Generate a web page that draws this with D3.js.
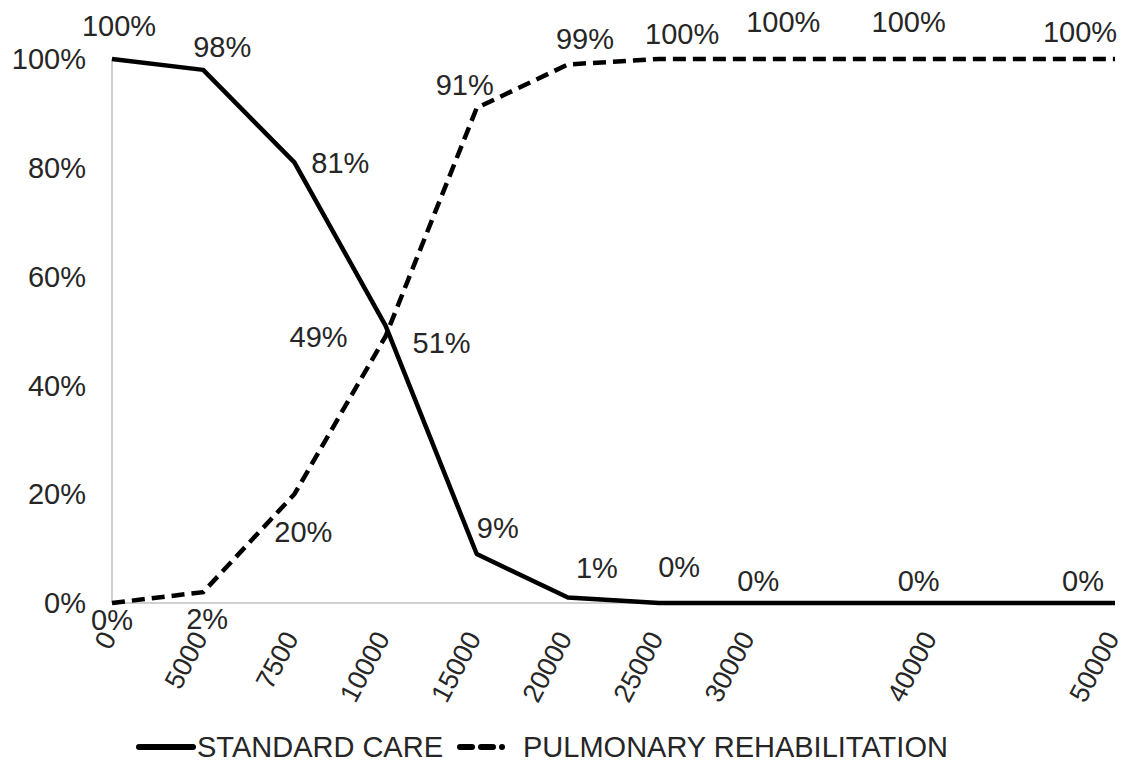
<!DOCTYPE html>
<html><head><meta charset="utf-8">
<script src="https://cdn.jsdelivr.net/npm/d3@7"></script>
<style>body{margin:0;background:#fff}svg{display:block;font-family:"Liberation Sans",Arial,sans-serif}</style>
</head><body><svg id="c" width="1128" height="765"></svg>
<script>
// categories on the axis (35000 and 45000 exist as unlabeled slots)
const axisCategories = [0,5000,7500,10000,15000,20000,25000,30000,35000,40000,45000,50000];
const xLabels = ["0","5000","7500","10000","15000","20000","25000","30000","","40000","","50000"];
const thresholds = [0,5000,7500,10000,15000,20000,25000,30000,40000,50000];
const standardCare = [100,98,81,51,9,1,0,0,0,0];
const pulmonaryRehab = [0,2,20,49,91,99,100,100,100,100];
const yTicks = [0,20,40,60,80,100];
const seriesNames = ["STANDARD CARE","PULMONARY REHABILITATION"];

// label offsets (layout only)
const scOff = [[7,-33],[19,-23],[46,0],[56,17],[21,-26],[29,-30],[20,-36],[8,-22],[-14,-22],[-32,-22]];
const prOff = [[0,17],[4,27],[9,38],[-67,0],[-12,-23],[17,-26],[23,-25],[33,-37],[-24,-37],[-35,-27]];

const svg = d3.select("#c");
const x = d3.scalePoint().domain(axisCategories).range([112,1115]);
const y = d3.scaleLinear().domain([0,100]).range([603,59]);
const txt = "#262626", fs = 29;

// axes lines
svg.append("line").attr("x1",112).attr("x2",112).attr("y1",y(100)).attr("y2",y(0)).attr("stroke","#c0c0c0").attr("stroke-width",1.5);
svg.append("line").attr("x1",112).attr("x2",1115).attr("y1",y(0)).attr("y2",y(0)).attr("stroke","#c0c0c0").attr("stroke-width",1.5);

// y labels
svg.selectAll(".yl").data(yTicks).join("text")
  .attr("x",86).attr("y",d=>y(d)).attr("dy","0.35em").attr("text-anchor","end")
  .attr("font-size",fs).attr("fill",txt).text(d=>d+"%");

// x labels
svg.selectAll(".xl").data(axisCategories).join("text")
  .attr("transform",(d)=>`translate(${x(d)+5},${y(0)+35}) rotate(-62)`)
  .attr("text-anchor","end").attr("font-size",27).attr("fill",txt)
  .text((d,i)=>xLabels[i]);

const line = d3.line().x(d=>x(d[0])).y(d=>y(d[1]));
const sc = thresholds.map((t,i)=>[t,standardCare[i]]);
const pr = thresholds.map((t,i)=>[t,pulmonaryRehab[i]]);

svg.append("path").datum(sc).attr("d",line).attr("fill","none").attr("stroke","#000").attr("stroke-width",4.5).attr("stroke-linejoin","round");
svg.append("path").datum(pr).attr("d",line).attr("fill","none").attr("stroke","#000").attr("stroke-width",4.5).attr("stroke-dasharray","13,7");

svg.selectAll(".scl").data(sc).join("text")
  .attr("x",(d,i)=>x(d[0])+scOff[i][0]).attr("y",(d,i)=>y(d[1])+scOff[i][1]).attr("dy","0.35em")
  .attr("text-anchor","middle").attr("font-size",fs).attr("fill",txt).text(d=>d[1]+"%");
svg.selectAll(".prl").data(pr).join("text")
  .attr("x",(d,i)=>x(d[0])+prOff[i][0]).attr("y",(d,i)=>y(d[1])+prOff[i][1]).attr("dy","0.35em")
  .attr("text-anchor","middle").attr("font-size",fs).attr("fill",txt).text(d=>d[1]+"%");

// legend
const ly = 747;
svg.append("line").attr("x1",139).attr("x2",193).attr("y1",ly).attr("y2",ly).attr("stroke","#000").attr("stroke-width",6).attr("stroke-linecap","round");
svg.append("text").attr("x",197).attr("y",ly).attr("dy","0.35em").attr("font-size",fs).attr("fill",txt).text(seriesNames[0]);
svg.append("line").attr("x1",460).attr("x2",512).attr("y1",ly).attr("y2",ly).attr("stroke","#000").attr("stroke-width",6)
  .attr("stroke-linecap","round").attr("stroke-dasharray","12,9,12,9,0,20");
svg.append("text").attr("x",523).attr("y",ly).attr("dy","0.35em").attr("font-size",fs).attr("fill",txt).text(seriesNames[1]);
</script></body></html>
